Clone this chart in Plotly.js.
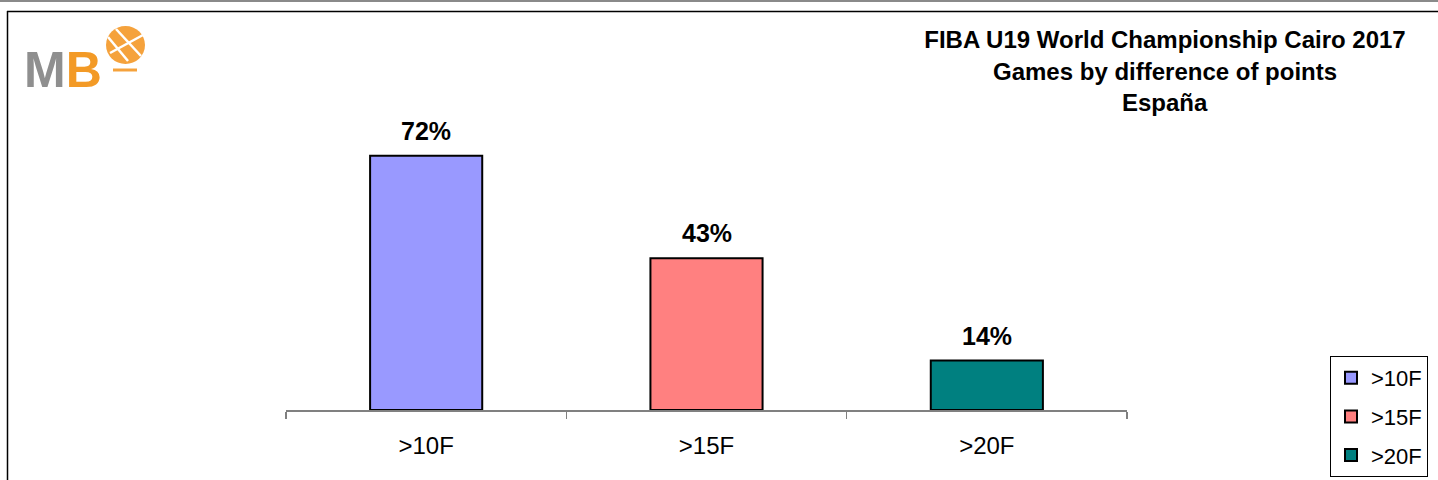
<!DOCTYPE html>
<html>
<head>
<meta charset="utf-8">
<script src="https://cdn.plot.ly/plotly-3.0.1.min.js"></script>
<style>
html,body{margin:0;padding:0;background:#fff;overflow:hidden;}
#chart{width:1438px;height:480px;}
</style>
</head>
<body>
<div id="chart"></div>
<script>
// ---- data ----
const categories = ['>10F', '>15F', '>20F'];
const values = [72, 43, 14];
const valueLabels = ['72%', '43%', '14%'];
const barColors = ['#9999FF', '#FF8080', '#008080'];
const titleLines = ['FIBA U19 World Championship Cairo 2017', 'Games by difference of points', 'España'];

// ---- layout helpers (pixel -> paper) ----
const W = 1438, H = 480;
const M = {l: 286, r: 311, t: 57, b: 70, autoexpand: false};
const plotW = W - M.l - M.r, plotH = H - M.t - M.b;
const px = x => (x - M.l) / plotW;
const py = y => (H - M.b - y) / plotH;

const FONT = 'Liberation Sans, Arial, sans-serif';

const traces = categories.map((c, i) => ({
  type: 'bar',
  x: [c],
  y: [values[i]],
  name: c,
  legendgroup: 'g' + i,
  marker: {color: barColors[i], line: {color: '#000', width: 2}},
  hoverinfo: 'x+y'
}));

const annotations = [];
categories.forEach((c, i) => {
  annotations.push({
    x: c, y: values[i], xref: 'x', yref: 'y',
    text: valueLabels[i], showarrow: false,
    yanchor: 'bottom', yshift: 9,
    font: {family: FONT, size: 25, color: '#000', weight: 'bold'}
  });
});
// title lines 2 and 3
[1, 2].forEach((k, j) => {
  annotations.push({
    x: px(1165), y: py([72, 103][j]), xref: 'paper', yref: 'paper',
    text: titleLines[k], showarrow: false, xanchor: 'center', yanchor: 'middle',
    font: {family: FONT, size: 24, color: '#000', weight: 'bold'}
  });
});
// logo text
annotations.push({
  x: px(22), y: py(70), xref: 'paper', yref: 'paper', xanchor: 'left', yanchor: 'middle',
  text: '<span style="color:#8F8F8F">M</span><span style="color:#F39A26">B</span>',
  showarrow: false,
  font: {family: FONT, size: 50, weight: 'bold'}
});

const shapes = [
  // top grey strip
  {type: 'line', xref: 'paper', yref: 'paper', x0: px(0), x1: px(1440), y0: py(1), y1: py(1), line: {color: '#8a8a8a', width: 2}},
  // frame top
  {type: 'line', xref: 'paper', yref: 'paper', x0: px(7), x1: px(1440), y0: py(11.5), y1: py(11.5), line: {color: '#000', width: 1.5}},
  // frame left
  {type: 'line', xref: 'paper', yref: 'paper', x0: px(7.5), x1: px(7.5), y0: py(11), y1: py(482), line: {color: '#000', width: 1.5}},
  // logo ball
  {type: 'circle', xref: 'paper', yref: 'paper', x0: px(106), x1: px(145), y0: py(64), y1: py(26), fillcolor: '#F5A23C', line: {width: 0}},
  {type: 'line', xref: 'paper', yref: 'paper', x0: px(108), x1: px(128), y0: py(37), y1: py(61), line: {color: '#fff', width: 2.5}},
  {type: 'line', xref: 'paper', yref: 'paper', x0: px(116), x1: px(141), y0: py(29), y1: py(56), line: {color: '#fff', width: 2.5}},
  {type: 'line', xref: 'paper', yref: 'paper', x0: px(110), x1: px(143), y0: py(53), y1: py(35), line: {color: '#fff', width: 2.5}},
  // logo dash
  {type: 'line', xref: 'paper', yref: 'paper', x0: px(113), x1: px(137), y0: py(70), y1: py(70), line: {color: '#F5A23C', width: 3}}
];

const layout = {
  width: W, height: H,
  margin: M,
  paper_bgcolor: '#fff', plot_bgcolor: '#fff',
  showlegend: true,
  barmode: 'overlay',
  bargap: 0.6,
  font: {family: FONT, color: '#000'},
  title: {
    text: titleLines[0],
    x: 1165 / W, xanchor: 'center', xref: 'container',
    y: 1 - 40 / H, yanchor: 'middle', yref: 'container',
    font: {family: FONT, size: 24, color: '#000', weight: 'bold'},
    automargin: false
  },
  xaxis: {
    type: 'category',
    range: [-0.5, 2.5],
    showline: true, linecolor: '#808080', linewidth: 1.5,
    ticks: 'outside', tickson: 'boundaries', ticklen: 7, tickcolor: '#808080', tickwidth: 1.5,
    ticklabelstandoff: 14,
    tickfont: {family: FONT, size: 24, color: '#000'},
    showgrid: false, zeroline: false, fixedrange: true, automargin: false
  },
  yaxis: {
    range: [0, 100],
    visible: false, showgrid: false, zeroline: false, fixedrange: true
  },
  legend: {
    x: px(1330), y: py(356), xanchor: 'left', yanchor: 'top',
    xref: 'paper', yref: 'paper',
    bgcolor: '#fff', bordercolor: '#000', borderwidth: 1,
    font: {family: FONT, size: 22, color: '#000'},
    traceorder: 'grouped', tracegroupgap: 7
  },
  annotations: annotations,
  shapes: shapes
};

Plotly.newPlot('chart', traces, layout, {displayModeBar: false, staticPlot: true});
</script>
</body>
</html>
